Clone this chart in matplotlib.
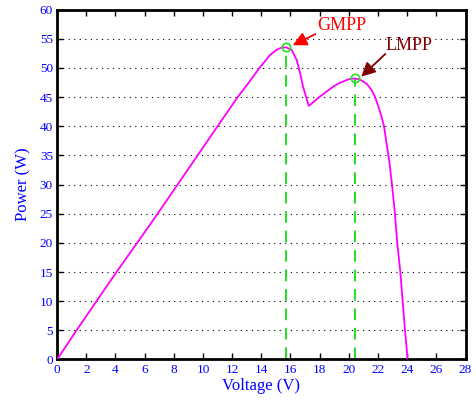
import numpy as np
import matplotlib.pyplot as plt

# P-V curve (partial shading, two peaks)
voltage = [0, 1.33, 2.70, 4.07, 5.49, 6.89, 8.26, 9.63, 11.0, 12.38, 13.2, 13.9,
           14.3, 14.59, 15.05, 15.35, 15.69, 16.08, 16.42, 16.65, 16.87, 17.06,
           17.25, 17.6, 18.02, 18.5, 18.93, 19.35, 19.73, 20.05, 20.4, 20.76,
           21.22, 21.56, 21.79, 22.02, 22.25, 22.41, 22.59, 22.77, 22.96, 23.16,
           23.32, 23.53, 23.69, 23.85, 24.03]
power = [0, 5, 10, 15, 20, 25, 30, 35, 40, 45, 47.7, 50.1,
         51.3, 52.2, 53.1, 53.45, 53.55, 53.1, 51.4, 49.2, 46.7, 45.1,
         43.5, 44.2, 45.1, 46.0, 46.8, 47.4, 47.8, 48.1, 48.2, 48.0,
         47.3, 46.2, 45.1, 43.4, 41.6, 40.0, 37.0, 34.0, 30, 25,
         20, 15, 10, 5, 0]

gmpp = (15.69, 53.55)
lmpp = (20.4, 48.2)

xticks = list(range(0, 29, 2))
yticks = list(range(0, 61, 5))

plt.rcParams['font.family'] = ['Liberation Serif', 'DejaVu Serif']

fig = plt.figure(figsize=(4.76, 4.01), dpi=100)
ax = fig.add_axes([0.120, 0.1035, 0.858, 0.8725])

# horizontal dotted grid only
for y in yticks[1:-1]:
    ax.axhline(y, color='black', lw=0.8, linestyle=(0, (1, 4)), zorder=1)

ax.plot(voltage, power, color='#ff00ff', lw=1.3, zorder=3)

for px, py in (gmpp, lmpp):
    ax.plot([px, px], [0, py], color='#22e022', lw=1.4, linestyle=(0, (6, 4)), zorder=2)
    ax.plot(px, py, 'o', mfc='none', mec='#22e022', mew=1.2, ms=6, zorder=4)

ax.text(19.5, 57.3, 'GMPP', color='red', fontsize=13, ha='center', va='center')
ax.text(24.1, 53.8, 'LMPP', color='#800000', fontsize=13, ha='center', va='center')

arrow = '-|>,head_length=0.6,head_width=0.3'
ax.annotate('', xy=(16.15, 53.9), xytext=(17.7, 55.8),
            arrowprops=dict(arrowstyle=arrow, color='red', lw=1.3, mutation_scale=14,
                            shrinkA=0, shrinkB=0))
ax.annotate('', xy=(20.85, 48.5), xytext=(22.5, 52.4),
            arrowprops=dict(arrowstyle=arrow, color='#800000', lw=1.3, mutation_scale=14,
                            shrinkA=0, shrinkB=0))

ax.set_xlim(0, 28)
ax.set_ylim(0, 60)
ax.set_xticks(xticks)
ax.set_yticks(yticks)
ax.tick_params(direction='in', length=4, width=1, top=True, right=True,
               labelcolor='blue', labelsize=9.5, pad=3)
for s in ax.spines.values():
    s.set_linewidth(2)

ax.set_xlabel('Voltage (V)', color='blue', fontsize=12, labelpad=2)
ax.set_ylabel('Power (W)', color='blue', fontsize=12, labelpad=6)

plt.savefig('out.png', dpi=100)
